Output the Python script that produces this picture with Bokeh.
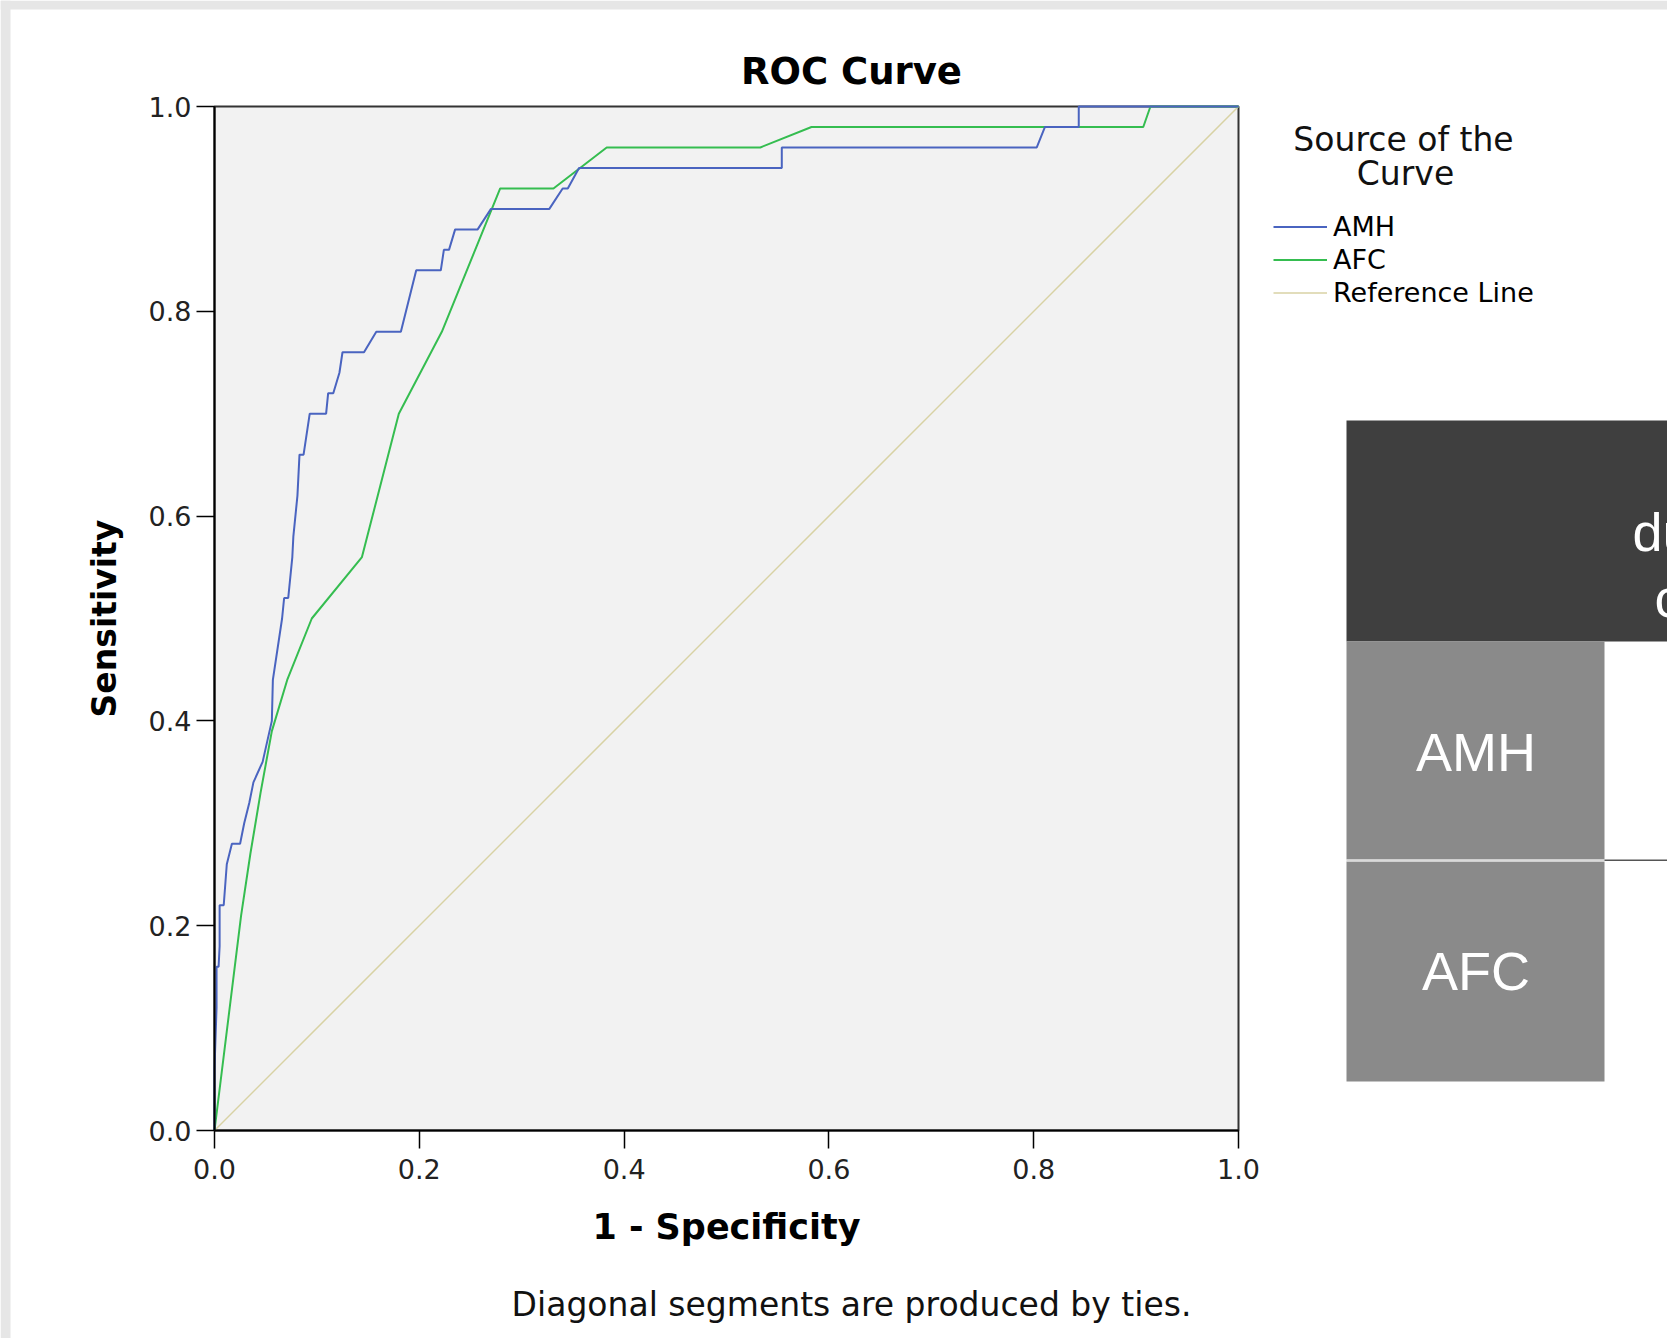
from bokeh.plotting import figure
from bokeh.models import (Label, BoxAnnotation, Legend, LegendItem, FixedTicker,
                          Range1d)
from bokeh.embed import file_html
from bokeh.resources import INLINE

# ---------------- data ----------------
amh_fpr = [0.0, 0.0, 0.002, 0.002, 0.004, 0.005, 0.005, 0.009, 0.012, 0.017,
           0.025, 0.029, 0.034, 0.038, 0.047, 0.056, 0.057, 0.066, 0.068, 0.072,
           0.076, 0.077, 0.081, 0.083, 0.087, 0.093, 0.109, 0.111, 0.116, 0.122,
           0.125, 0.146, 0.158, 0.182, 0.192, 0.197, 0.221, 0.224, 0.229, 0.235,
           0.257, 0.270, 0.327, 0.340, 0.345, 0.356, 0.554, 0.554, 0.803, 0.811,
           0.844, 0.844, 1.0]
amh_tpr = [0.0, 0.06, 0.12, 0.16, 0.16, 0.18, 0.22, 0.22, 0.26, 0.28,
           0.28, 0.30, 0.32, 0.34, 0.36, 0.40, 0.44, 0.50, 0.52, 0.52,
           0.56, 0.58, 0.62, 0.66, 0.66, 0.70, 0.70, 0.72, 0.72, 0.74,
           0.76, 0.76, 0.78, 0.78, 0.82, 0.84, 0.84, 0.86, 0.86, 0.88,
           0.88, 0.90, 0.90, 0.92, 0.92, 0.94, 0.94, 0.96, 0.96, 0.98,
           0.98, 1.0, 1.0]

afc_fpr = [0.0, 0.026, 0.035, 0.045, 0.056, 0.071, 0.095, 0.144, 0.180, 0.222,
           0.279, 0.331, 0.383, 0.533, 0.583, 0.907, 0.914, 1.0]
afc_tpr = [0.0, 0.21, 0.27, 0.33, 0.39, 0.44, 0.50, 0.56, 0.70, 0.78,
           0.92, 0.92, 0.96, 0.96, 0.98, 0.98, 1.0, 1.0]

ref_x = [0.0, 1.0]
ref_y = [0.0, 1.0]

tick_values = [0.0, 0.2, 0.4, 0.6, 0.8, 1.0]
tick_labels = ["0.0", "0.2", "0.4", "0.6", "0.8", "1.0"]

series_names = ["AMH", "AFC", "Reference Line"]
series_colors = ["#4a64c0", "#35bd50", "#d8d2a4"]

table_rows = ["AMH", "AFC"]
table_header_fragments = ["du", "c"]

# ---------------- layout constants (page pixels) ----------------
W, H = 1667, 1338
FL, FB, FS = 214.0, 1130.0, 1024.0   # plot-box left, bottom, size


def dx(px):
    return (px - FL) / FS


def dy(py):
    return (FB - py) / FS


FONT = "DejaVu Sans"

p = figure(width=W, height=H, output_backend="svg", toolbar_location=None,
           x_range=Range1d(dx(0), dx(W)), y_range=Range1d(dy(H), dy(0)),
           min_border_left=0, min_border_right=0,
           min_border_top=0, min_border_bottom=0)

p.background_fill_color = "white"
p.border_fill_color = "white"
p.outline_line_color = None
p.xgrid.visible = False
p.ygrid.visible = False

# page edge strips
p.add_layout(BoxAnnotation(left=dx(0), right=dx(10), top=dy(0), bottom=dy(H),
                           fill_color="#e6e6e6", fill_alpha=1, line_color=None,
                           level="underlay"))
p.add_layout(BoxAnnotation(left=dx(0), right=dx(W), top=dy(0), bottom=dy(9),
                           fill_color="#e6e6e6", fill_alpha=1, line_color=None,
                           level="underlay"))

# plot box background + border
p.add_layout(BoxAnnotation(left=0, right=1, bottom=0, top=1,
                           fill_color="#f2f2f2", fill_alpha=1,
                           line_color="#333333", line_alpha=1, line_width=2,
                           level="underlay"))

for ax, lab_size, lab_standoff, tick_standoff in ((p.xaxis[0], "35px", 25, 10),
                                                  (p.yaxis[0], "33px", 22, 5)):
    ax.fixed_location = 0
    ax.bounds = (0, 1)
    ax.ticker = FixedTicker(ticks=tick_values)
    ax.major_label_overrides = dict(zip(tick_values, tick_labels))
    ax.major_tick_in = 0
    ax.major_tick_out = 18
    ax.major_tick_line_width = 1.5
    ax.major_tick_line_color = "black"
    ax.minor_tick_line_color = None
    ax.axis_line_color = "black"
    ax.axis_line_width = 2
    ax.major_label_text_font = FONT
    ax.major_label_text_font_size = "27px"
    ax.major_label_text_color = "#222222"
    ax.major_label_standoff = tick_standoff
    ax.axis_label_text_font = FONT
    ax.axis_label_text_font_size = lab_size
    ax.axis_label_text_font_style = "bold"
    ax.axis_label_text_color = "black"
    ax.axis_label_standoff = lab_standoff

p.xaxis.axis_label = "1 - Specificity"
p.yaxis.axis_label = "Sensitivity"

r_ref = p.line(ref_x, ref_y, line_color=series_colors[2], line_width=1.5)
r_afc = p.line(afc_fpr, afc_tpr, line_color=series_colors[1], line_width=2)
r_amh = p.line(amh_fpr, amh_tpr, line_color=series_colors[0], line_width=2)

legend = Legend(items=[LegendItem(label=series_names[0], renderers=[r_amh]),
                       LegendItem(label=series_names[1], renderers=[r_afc]),
                       LegendItem(label=series_names[2], renderers=[r_ref])],
                location=(1273, H - 209.5 - 99),
                glyph_width=54, glyph_height=33, label_height=33,
                label_standoff=6, spacing=0, padding=0, margin=0,
                label_text_font=FONT, label_text_font_size="27px",
                label_text_color="black",
                border_line_color=None, background_fill_alpha=0)
p.add_layout(legend, "center")

# legend title (two centered lines)
p.add_layout(Label(x=dx(1403), y=dy(138.9), text="Source of the",
                   text_align="center", text_baseline="alphabetic",
                   text_font=FONT, text_font_size="33px", text_color="#111111"))
p.add_layout(Label(x=dx(1405), y=dy(173.2), text="Curve",
                   text_align="center", text_baseline="alphabetic",
                   text_font=FONT, text_font_size="33px", text_color="#111111"))

# chart title
p.add_layout(Label(x=dx(851), y=dy(70.8), text="ROC Curve",
                   text_align="center", text_baseline="alphabetic",
                   text_font=FONT, text_font_size="37px", text_font_style="bold",
                   text_color="black"))

# footnote
p.add_layout(Label(x=dx(851), y=dy(1304.4), text="Diagonal segments are produced by ties.",
                   text_align="center", text_baseline="alphabetic",
                   text_font=FONT, text_font_size="33px", text_color="#111111"))

# ---------------- partial table on the right ----------------
p.add_layout(BoxAnnotation(left=dx(1346), right=dx(W), top=dy(420), bottom=dy(641),
                           fill_color="#3f3f3f", fill_alpha=1, line_color=None,
                           level="underlay"))
p.add_layout(BoxAnnotation(left=dx(1346), right=dx(1604), top=dy(641), bottom=dy(859),
                           fill_color="#8a8a8a", fill_alpha=1, line_color=None,
                           level="underlay"))
p.add_layout(BoxAnnotation(left=dx(1346), right=dx(1604), top=dy(861), bottom=dy(1081),
                           fill_color="#8a8a8a", fill_alpha=1, line_color=None,
                           level="underlay"))
p.add_layout(BoxAnnotation(left=dx(1346), right=dx(1604), top=dy(859), bottom=dy(861),
                           fill_color="#d9d9d9", fill_alpha=1, line_color=None,
                           level="underlay"))
p.add_layout(BoxAnnotation(left=dx(1604), right=dx(W), top=dy(859), bottom=dy(860.5),
                           fill_color="#555555", fill_alpha=1, line_color=None,
                           level="underlay"))

p.add_layout(Label(x=dx(1475.6), y=dy(751), text=table_rows[0],
                   text_align="center", text_baseline="alphabetic",
                   text_font="Liberation Sans", text_font_size="54px",
                   text_color="white"))
p.add_layout(Label(x=dx(1475.6), y=dy(970), text=table_rows[1],
                   text_align="center", text_baseline="alphabetic",
                   text_font="Liberation Sans", text_font_size="54px",
                   text_color="white"))
p.add_layout(Label(x=dx(1632), y=dy(531.7), text=table_header_fragments[0],
                   text_align="left", text_baseline="alphabetic",
                   text_font="Liberation Sans", text_font_size="54px",
                   text_color="white"))
p.add_layout(Label(x=dx(1654), y=dy(597.5), text=table_header_fragments[1],
                   text_align="left", text_baseline="alphabetic",
                   text_font="Liberation Sans", text_font_size="54px",
                   text_color="white"))

open("out.html", "w").write(file_html(p, INLINE))
